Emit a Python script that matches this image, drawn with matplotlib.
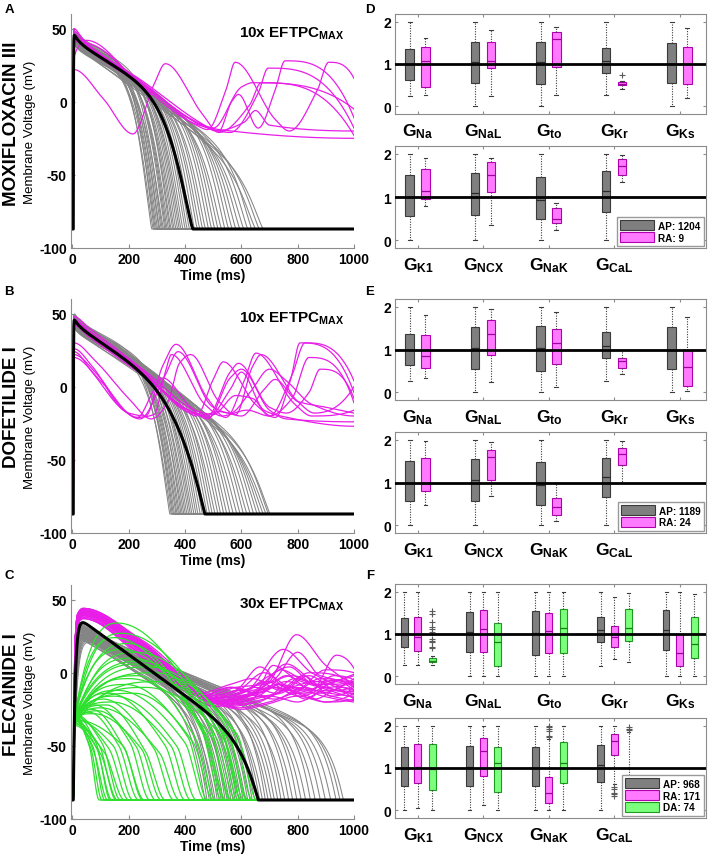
import numpy as np
import matplotlib
matplotlib.use('Agg')
import matplotlib.pyplot as plt
from matplotlib.patches import Patch

plt.rcParams['font.family'] = ['Liberation Sans', 'DejaVu Sans']
plt.rcParams['mathtext.fontset'] = 'custom'
plt.rcParams['mathtext.rm'] = 'Liberation Sans'
plt.rcParams['mathtext.bf'] = 'Liberation Sans:bold'
plt.rcParams['mathtext.default'] = 'bf'

# ---------------------------------------------------------------- data
VREST = -87.0
time_ms = np.linspace(0, 1000, 2001)

# black (baseline) traces: peak, plateau slope, end of repolarisation
A_black = dict(vp=42, s=0.12, T=428, tau=0.6, spike=5)
B_black = dict(vp=43, s=0.13, T=470, tau=0.6, spike=4)
C_black = dict(vp=40, s=0.14, T=660, tau=7, spike=0)

# gray AP populations (end time, plateau start, plateau slope)
A_gray_T = [282, 287, 291, 295, 299, 303, 308, 311, 316, 320, 324, 329, 333, 337, 342, 347, 351, 357, 362, 368,
            374, 380, 386, 393, 401, 408, 416, 425, 434, 444, 453, 463, 473, 484, 495, 506, 518, 530, 542, 555,
            568, 581, 595, 609, 623, 637, 651, 664, 678]
A_gray_Vp = [44, 41, 45, 38, 43, 40, 46, 36, 42, 44, 39, 45, 41, 37, 43, 46, 40, 44, 38, 42, 45, 41, 36, 43, 40,
             44, 39, 46, 42, 38, 44, 41, 43, 37, 45, 40, 42, 44, 39, 43, 41, 45, 38, 42, 44, 40, 43, 41, 39]
A_gray_s = [0.10, 0.11, 0.09, 0.10, 0.11, 0.10, 0.12, 0.09, 0.11, 0.10, 0.12, 0.11, 0.10, 0.09, 0.12, 0.11, 0.10,
            0.12, 0.10, 0.11, 0.12, 0.11, 0.10, 0.12, 0.11, 0.12, 0.11, 0.13, 0.12, 0.11, 0.13, 0.12, 0.13, 0.11,
            0.13, 0.12, 0.13, 0.14, 0.12, 0.13, 0.13, 0.14, 0.13, 0.14, 0.14, 0.13, 0.15, 0.14, 0.14]

B_gray_T = [346, 351, 355, 359, 363, 368, 372, 377, 381, 386, 391, 396, 401, 407, 413, 419, 425, 432, 439, 446,
            454, 462, 470, 479, 488, 497, 507, 517, 527, 538, 549, 560, 572, 584, 596, 608, 620, 632, 644, 656,
            667, 678, 688, 696, 702]
B_gray_Vp = [45, 42, 46, 39, 44, 41, 47, 37, 43, 45, 40, 46, 42, 38, 44, 47, 41, 45, 39, 43, 46, 42, 37, 44, 41,
             45, 40, 47, 43, 39, 45, 42, 44, 38, 46, 41, 43, 45, 40, 44, 42, 46, 39, 43, 41]
B_gray_s = [0.10, 0.11, 0.10, 0.09, 0.11, 0.10, 0.12, 0.09, 0.11, 0.10, 0.11, 0.12, 0.10, 0.10, 0.11, 0.12, 0.11,
            0.12, 0.10, 0.11, 0.12, 0.11, 0.10, 0.12, 0.11, 0.12, 0.12, 0.13, 0.12, 0.11, 0.13, 0.12, 0.13, 0.12,
            0.13, 0.12, 0.13, 0.13, 0.12, 0.13, 0.13, 0.14, 0.13, 0.13, 0.13]

C_gray_T = [470, 478, 486, 493, 500, 507, 514, 521, 528, 535, 542, 549, 556, 563, 570, 577, 584, 591, 598, 606,
            614, 622, 630, 638, 647, 656, 665, 675, 685, 695, 706, 717, 729, 741, 754, 768, 782, 797, 812, 828,
            845, 862, 880, 898, 917, 936, 950, 962]
C_gray_Vp = [30, 34, 27, 36, 32, 29, 35, 31, 26, 33, 37, 30, 28, 34, 32, 36, 29, 31, 35, 27, 33, 30, 36, 32, 28,
             34, 31, 29, 35, 33, 27, 32, 30, 34, 28, 31, 29, 33, 27, 30, 32, 28, 31, 29, 27, 30, 28, 26]
C_gray_s = [0.13, 0.13, 0.12, 0.13, 0.12, 0.13, 0.12, 0.12, 0.11, 0.12, 0.12, 0.12, 0.11, 0.12, 0.11, 0.12, 0.11,
            0.11, 0.11, 0.10, 0.11, 0.10, 0.11, 0.10, 0.10, 0.10, 0.10, 0.10, 0.095, 0.10, 0.09, 0.095, 0.09, 0.09,
            0.09, 0.085, 0.085, 0.085, 0.08, 0.085, 0.08, 0.08, 0.08, 0.078, 0.075, 0.076, 0.075, 0.074]
C_gray_tau = [4, 6, 3, 5, 8, 4, 3, 10, 5, 4, 3, 6, 12, 4, 5, 3, 7, 4, 3, 9, 5, 4, 3, 6, 11, 4, 5, 7, 3, 4, 8, 5,
              4, 6, 10, 4, 5, 3, 7, 4, 6, 5, 4, 8, 5, 4, 6, 5]

# magenta (repolarisation abnormality) traces, (time, voltage) landmarks
A_mag = [
    [(5, 22), (110, 2), (215, -22), (290, 12), (330, 26), (460, -8), (520, -21), (630, -2), (670, 13), (1000, -23)],
    [(5, 48), (60, 38), (250, 13), (440, -16), (480, -19), (545, 8), (578, 27), (720, -12), (770, -20), (870, 8),
     (910, 27), (1000, 16)],
    [(5, 46), (60, 37), (250, 12), (470, -17), (520, -20), (565, 0), (590, 5), (660, -18), (720, 8), (755, 28),
     (1000, -11)],
    [(5, 43), (60, 35), (250, 11), (500, -19), (560, -21), (660, 6), (695, 23), (1000, -18)],
    [(5, 40), (50, 42), (250, 10), (450, -16), (500, -18), (600, 10), (640, 13), (1000, -5)],
    [(5, 30), (45, 40), (250, 11), (480, -17), (520, -19), (1000, -25)],
    [(5, 50), (40, 42), (250, 14), (460, -15), (510, -20), (610, -14), (650, -6), (700, -16), (1000, -20)],
]
B_mag = [
    [(5, 22), (90, 8), (200, -18), (260, -20), (320, 14), (368, 29), (480, -8), (545, -21), (610, 4), (652, 23),
     (790, -12), (850, -20), (1000, -16)],
    [(5, 20), (100, 4), (230, -21), (290, -19), (330, 10), (352, 22), (470, -12), (530, -20), (620, -16),
     (700, -20), (780, 8), (826, 30), (1000, 4)],
    [(5, 46), (60, 38), (250, 11), (400, -16), (440, -20), (500, 5), (536, 17), (650, -12), (720, -21), (775, 5),
     (808, 30), (1000, -4)],
    [(5, 43), (60, 35), (250, 9), (430, -18), (480, -21), (560, -2), (600, 10), (680, -16), (740, -20),
     (1000, -27)],
    [(5, 26), (70, 14), (180, -16), (240, -22), (330, 8), (375, 24), (500, -14), (560, -18), (630, -4), (700, 12),
     (760, 4), (850, -12), (1000, -20)],
    [(5, 48), (60, 40), (250, 12), (450, -17), (500, -19), (580, -6), (640, -8), (700, -20), (780, -8), (840, 20),
     (1000, -11)],
    [(5, 30), (80, 18), (200, -8), (280, -22), (340, -10), (380, 16), (420, 22), (520, -10), (580, -19), (640, 14),
     (670, 22), (800, -10), (860, -18), (1000, 0)],
    [(5, 42), (60, 34), (250, 8), (470, -19), (520, -17), (600, -20), (680, -2), (720, 5), (800, -10), (900, -14),
     (1000, -18)],
    [(5, 24), (70, 10), (170, -14), (230, -21), (290, -2), (320, 6), (420, -14), (480, -22), (560, 6), (600, 12),
     (700, -16), (760, -22), (1000, -24)],
    [(5, 45), (60, 37), (250, 10), (420, -18), (480, -20), (560, 10), (590, 16), (700, -14), (760, -18), (840, -4),
     (880, 12), (1000, -8)],
]
C_mag_Vp = [42, 40, 43, 38, 41, 44, 39, 42, 40, 37, 43, 41, 39, 42, 44, 40, 38, 42, 41, 43, 39, 40, 42, 37, 44,
            41, 40, 43]
C_mag_V250 = [18, 15, 20, 12, 17, 21, 14, 19, 16, 10, 20, 18, 13, 17, 22, 15, 11, 18, 16, 19, 14, 17, 20, 12, 21,
              15, 18, 16]
C_mag_tmin = [520, 500, 540, 480, 560, 530, 510, 470, 590, 450, 550, 500, 520, 480, 570, 530, 460, 510, 490, 560,
              500, 540, 480, 520, 510, 600, 470, 530]
C_mag_Vmin = [-20, -18, -22, -16, -21, -19, -23, -15, -24, -14, -20, -17, -21, -18, -22, -19, -16, -20, -17, -23,
              -18, -21, -16, -19, -18, -25, -15, -20]
C_mag_late = [
    [(620, -16), (700, -6), (796, 26), (900, 5), (1000, -8)],
    [(620, -12), (749, 16), (850, 0), (1000, -12)],
    [(640, -18), (713, 5), (800, -5), (900, -10), (1000, -6)],
    [(580, -12), (666, 4), (760, -10), (860, -6), (1000, -18)],
    [(660, -16), (760, -2), (850, -12), (938, 12), (1000, 3)],
    [(650, -10), (720, -14), (820, -2), (920, -16), (1000, -10)],
    [(610, -20), (700, -16), (800, -20), (900, -12), (1000, -15)],
    [(560, -10), (640, -12), (740, 2), (840, -6), (1000, -2)],
    [(700, -20), (800, -14), (900, -20), (1000, -18)],
    [(560, -8), (640, -4), (740, -12), (840, 0), (1000, -8)],
    [(650, -14), (760, 6), (870, -8), (1000, -14)],
    [(600, -14), (690, -6), (780, -14), (880, -4), (1000, -10)],
    [(620, -16), (730, -8), (830, -18), (930, -6), (1000, -12)],
    [(590, -12), (680, 0), (770, -10), (870, -14), (1000, -4)],
    [(680, -18), (790, -10), (890, -16), (1000, -20)],
    [(630, -14), (720, -4), (800, 14), (880, -2), (1000, -6)],
    [(570, -10), (660, -14), (760, -6), (860, -12), (1000, -16)],
    [(610, -16), (710, -10), (810, -16), (910, -8), (1000, -1)],
    [(590, -12), (690, -16), (790, -4), (890, -10), (1000, -13)],
    [(660, -20), (760, -12), (860, -18), (960, -10), (1000, -12)],
    [(600, -14), (700, -2), (770, 4), (860, -8), (1000, -7)],
    [(640, -17), (740, -14), (840, -2), (940, -12), (1000, -9)],
    [(580, -10), (680, -8), (780, -2), (880, -10), (1000, -17)],
    [(620, -15), (720, -18), (820, -10), (920, -16), (1000, -19)],
    [(610, -12), (700, -6), (790, -12), (900, 2), (1000, 0)],
    [(700, -21), (800, -16), (900, -20), (1000, -14)],
    [(560, -10), (650, -14), (740, -8), (830, -12), (930, -5), (1000, -9)],
    [(630, -16), (720, -10), (830, -14), (930, -2), (1000, -5)],
]

# green (depolarisation abnormality) traces: initial level, hump time/peak (0 = none), knee V, end time
C_grn_V0 = [-31, -33, -30, -34, -29, -32, -35, -31, -33, -30, -36, -32, -28, -31, -34, -30, -33, -29,
            -32, -34, -30, -31, -35, -33,
            -30, -32, -34, -29, -31, -33, -28, -35, -30, -32, -31, -33, -29, -34, -30, -32, -36, -28]
C_grn_tp = [160, 175, 200, 225, 250, 270, 230, 190, 160, 290, 310, 210, 180, 240, 200, 150, 260, 220,
            130, 110, 140, 120, 100, 150,
            0, 0, 0, 0, 0, 0, 0, 0, 0, 0, 60, 70, 80, 90, 75, 0, 0, 0]
C_grn_Vpk = [34, 27, 20, 14, 8, 4, -2, -8, -12, 0, -6, 10, 16, 6, -4, 24, -10, -14,
             -14, -18, -20, -22, -24, -16,
             0, 0, 0, 0, 0, 0, 0, 0, 0, 0, -27, -25, -22, -26, -28, 0, 0, 0]
C_grn_Vk = [-38, -40, -42, -38, -44, -40, -46, -44, -48, -42, -45, -40, -42, -38, -44, -40, -46, -48,
            -50, -52, -50, -54, -55, -50,
            -50, -52, -50, -55, -52, -50, -48, -55, -52, -50, -50, -52, -48, -50, -52, -50, -55, -48]
C_grn_T = [560, 600, 540, 620, 580, 640, 510, 480, 470, 655, 625, 590, 545, 600, 565, 530, 610, 500,
           400, 360, 420, 330, 380, 440,
           95, 105, 115, 125, 140, 155, 170, 185, 200, 215, 235, 255, 275, 295, 315, 250, 160, 135]

# box plot statistics (lower whisker, q1, median, q3, upper whisker)
top_labels = [r'$G_{Na}$', r'$G_{NaL}$', r'$G_{to}$', r'$G_{Kr}$', r'$G_{Ks}$']
bot_labels = [r'$G_{K1}$', r'$G_{NCX}$', r'$G_{NaK}$', r'$G_{CaL}$']

D_top_AP = [(0.25, 0.63, 1.0, 1.36, 2.0), (0, 0.55, 1.04, 1.52, 2.0), (0, 0.52, 1.04, 1.52, 2.0),
            (0.26, 0.78, 1.08, 1.38, 2.0), (0, 0.55, 1.0, 1.5, 2.0)]
D_top_RA = [(0.28, 0.46, 1.08, 1.40, 1.62), (0.25, 0.9, 1.06, 1.52, 1.8), (0.26, 0.92, 1.58, 1.76, 1.88),
            (0.42, 0.5, 0.53, 0.57, 0.6), (0.2, 0.52, 1.0, 1.4, 1.85)]
D_top_RA_out = [[], [], [], [0.73], []]
D_bot_AP = [(0, 0.57, 1.0, 1.5, 2.0), (0, 0.58, 1.1, 1.55, 2.0), (0, 0.48, 0.94, 1.47, 2.0),
            (0, 0.66, 1.14, 1.6, 2.0)]
D_bot_RA = [(0.8, 0.95, 1.13, 1.64, 1.9), (0.35, 1.12, 1.5, 1.8, 1.9), (0.23, 0.4, 0.5, 0.74, 0.87),
            (1.35, 1.5, 1.72, 1.88, 1.97)]

E_top_AP = [(0.26, 0.64, 1.0, 1.36, 2.0), (0, 0.55, 1.04, 1.52, 2.0), (0, 0.5, 1.04, 1.54, 2.0),
            (0.26, 0.79, 1.08, 1.4, 2.0), (0, 0.55, 1.0, 1.52, 2.0)]
E_top_RA = [(0.33, 0.57, 0.85, 1.35, 1.8), (0.25, 0.88, 1.37, 1.68, 1.95), (0.13, 0.67, 1.15, 1.49, 1.87),
            (0.42, 0.56, 0.72, 0.81, 1.0), (0.02, 0.15, 0.6, 1.0, 1.77)]
E_bot_AP = [(0, 0.57, 1.0, 1.5, 2.0), (0, 0.57, 1.07, 1.55, 2.0), (0, 0.48, 0.95, 1.47, 2.0),
            (0, 0.65, 1.12, 1.58, 2.0)]
E_bot_RA = [(0.48, 0.8, 1.0, 1.58, 1.97), (0.68, 1.07, 1.6, 1.76, 1.95), (0.1, 0.25, 0.43, 0.64, 1.0),
            (1.0, 1.4, 1.67, 1.8, 1.97)]

F_top_AP = [(0.28, 0.7, 1.0, 1.38, 2.0), (0, 0.58, 1.04, 1.53, 2.0), (0, 0.5, 1.02, 1.54, 2.0),
            (0.25, 0.8, 1.1, 1.4, 2.0), (0, 0.62, 1.1, 1.57, 2.0)]
F_top_RA = [(0.28, 0.6, 0.92, 1.4, 2.0), (0, 0.58, 1.12, 1.56, 2.0), (0, 0.56, 1.07, 1.5, 2.0),
            (0.4, 0.7, 0.92, 1.2, 1.88), (0, 0.24, 0.56, 1.0, 2.0)]
F_top_DA = [(0.27, 0.33, 0.37, 0.44, 0.47), (0, 0.25, 0.8, 1.25, 2.0), (0.02, 0.54, 1.15, 1.6, 2.0),
            (0.33, 0.84, 1.13, 1.6, 1.96), (0.02, 0.43, 0.77, 1.39, 1.94)]
F_top_DA_out = [[0.66, 0.7, 0.8, 0.84, 0.88, 1.04, 1.12, 1.16, 1.28, 1.48, 1.54], [], [], [], []]
F_bot_AP = [(0, 0.57, 1.0, 1.5, 2.0), (0, 0.57, 1.03, 1.53, 2.0), (0, 0.57, 1.0, 1.5, 2.0),
            (0.02, 0.66, 1.08, 1.55, 2.0)]
F_bot_RA = [(0.05, 0.64, 1.03, 1.56, 1.98), (0.12, 0.8, 1.4, 1.7, 1.98), (0.02, 0.17, 0.4, 0.78, 1.68),
            (0.62, 1.3, 1.64, 1.8, 1.98)]
F_bot_RA_out = [[], [], [1.72, 1.76, 1.88, 1.92, 1.97, 2.0], [0.34, 0.38, 0.42, 0.5, 0.56]]
F_bot_DA = [(0.02, 0.47, 0.97, 1.57, 2.0), (0.02, 0.43, 1.12, 1.5, 1.98), (0.02, 0.64, 1.12, 1.62, 2.0),
            (0.02, 0.12, 0.45, 0.83, 1.86)]
F_bot_DA_out = [[], [], [], [1.9, 1.93, 1.96]]

legend_D = ['AP: 1204', 'RA: 9']
legend_E = ['AP: 1189', 'RA: 24']
legend_F = ['AP: 968', 'RA: 171', 'DA: 74']

# ---------------------------------------------------------------- styles
GRAY_L, MAG_L, GRN_L = '#858585', '#E81EE8', '#2EE02E'
BOX = {'AP': ('#7F7F7F', '#3A3A3A', '#2A2A2A'),
       'RA': ('#FF7AFF', '#B000B0', '#A000A0'),
       'DA': ('#7CFF7C', '#1E9A1E', '#128012')}
SPINE = '#8C8C8C'


# ---------------------------------------------------------------- helpers
def pchip(xk, yk, x):
    xk = np.asarray(xk, float)
    yk = np.asarray(yk, float)
    h = np.diff(xk)
    d = np.diff(yk) / h
    n = len(xk)
    m = np.zeros(n)
    for k in range(1, n - 1):
        if d[k - 1] * d[k] > 0:
            w1 = 2 * h[k] + h[k - 1]
            w2 = h[k] + 2 * h[k - 1]
            m[k] = (w1 + w2) / (w1 / d[k - 1] + w2 / d[k])

    def endslope(h0, h1, d0, d1):
        s = ((2 * h0 + h1) * d0 - h0 * d1) / (h0 + h1)
        if np.sign(s) != np.sign(d0):
            return 0.0
        if np.sign(d0) != np.sign(d1) and abs(s) > abs(3 * d0):
            return 3 * d0
        return s
    if n > 2:
        m[0] = endslope(h[0], h[1], d[0], d[1])
        m[-1] = endslope(h[-1], h[-2], d[-1], d[-2])
    else:
        m[:] = d[0]
    i = np.clip(np.searchsorted(xk, x, side='right') - 1, 0, n - 2)
    t = (x - xk[i]) / h[i]
    h00 = 2 * t ** 3 - 3 * t ** 2 + 1
    h10 = t ** 3 - 2 * t ** 2 + t
    h01 = -2 * t ** 3 + 3 * t ** 2
    h11 = t ** 3 - t ** 2
    return h00 * yk[i] + h10 * h[i] * m[i] + h01 * yk[i + 1] + h11 * h[i] * m[i + 1]


def ap_curve(t, vp, s, T, tau=0.6, spike=0.0, t_up=3.0, k=1.5, mexp=1.0):
    u = t - t_up
    uu = np.clip(u, 0, None)
    P = vp - s * uu - (vp - VREST) * np.exp(-uu / tau) + spike * np.exp(-uu / 20) * (1 - np.exp(-uu / tau))
    x = np.clip(uu / (T - t_up), 0, 1)
    n = k * (T - t_up) / 100.0
    S = (1 - x ** n) ** mexp
    V = VREST + (P - VREST) * S
    V[u < 0] = VREST
    return V


def landmark_curve(t, pts):
    xs = [0, 3] + [p[0] for p in pts]
    ys = [VREST, VREST] + [p[1] for p in pts]
    if xs[-1] < 1000:
        xs.append(1000)
        ys.append(VREST)
    return pchip(xs, ys, t)


def style_ap_axes(ax, note):
    ax.set_xlim(-5, 1000)
    ax.set_ylim(-100, 60)
    ax.set_xticks([0, 200, 400, 600, 800, 1000])
    ax.set_xticklabels(['0', '200', '400', '600', '800', '1000'], fontweight='bold')
    ax.set_yticks([-100, -50, 0, 50])
    ax.set_yticklabels(['-100', '-50', '0', '50'], fontweight='bold')
    for sp in ['top', 'right']:
        ax.spines[sp].set_visible(False)
    for sp in ['left', 'bottom']:
        ax.spines[sp].set_color(SPINE)
        ax.spines[sp].set_linewidth(0.8)
    ax.tick_params(direction='in', length=3, width=0.8, color=SPINE, labelcolor='black', labelsize=10, pad=3)
    ax.set_xlabel('Time (ms)', fontsize=10, fontweight='bold', labelpad=1)
    ax.set_ylabel('Membrane Voltage (mV)', fontsize=9.5, labelpad=2)
    ax.text(0.965, 0.92, note, transform=ax.transAxes, ha='right', va='center', fontsize=11,
            fontweight='bold')


def draw_boxes(ax, groups, labels, legend_labels=None, outliers=None):
    ng = len(groups)
    if ng == 2:
        offs, w = [-0.125, 0.115], 0.13
    else:
        offs, w = [-0.21, 0.0, 0.22], 0.105
    keys = ['AP', 'RA', 'DA'][:ng]
    for gi, (key, data) in enumerate(zip(keys, groups)):
        face, edge, med = BOX[key]
        stats = []
        for ci, (lo, q1, md, q3, hi) in enumerate(data):
            fl = []
            if outliers is not None and outliers[gi] is not None:
                fl = outliers[gi][ci]
            stats.append(dict(whislo=lo, q1=q1, med=md, q3=q3, whishi=hi, fliers=fl))
        pos = [i + 1 + offs[gi] for i in range(len(data))]
        ax.bxp(stats, positions=pos, widths=w, patch_artist=True, showfliers=True,
               capwidths=w * 0.45,
               boxprops=dict(facecolor=face, edgecolor=edge, linewidth=0.8),
               medianprops=dict(color=med, linewidth=0.9),
               whiskerprops=dict(color='#3C3C3C', linestyle=(0, (1, 1.3)), linewidth=0.8),
               capprops=dict(color='#3C3C3C', linewidth=0.8),
               flierprops=dict(marker='+', markeredgecolor='#5A5A5A', markersize=5, markeredgewidth=0.8),
               zorder=2)
    ax.axhline(1, color='black', linewidth=2.0, zorder=5)
    ax.set_xlim(0.65, 5.4)
    ax.set_ylim(-0.18, 2.18)
    ax.set_yticks([0, 1, 2])
    ax.set_yticklabels(['0', '1', '2'], fontweight='bold')
    ax.set_xticks(range(1, len(labels) + 1))
    ax.set_xticklabels(labels, fontsize=12.5)
    for sp in ax.spines.values():
        sp.set_color(SPINE)
        sp.set_linewidth(0.8)
    ax.tick_params(direction='in', length=2.5, width=0.8, color=SPINE, labelcolor='black', labelsize=10,
                   top=True, right=True, pad=3)
    ax.tick_params(axis='x', labelsize=12.5, pad=5)
    if legend_labels is not None:
        handles = [Patch(facecolor=BOX[k][0], edgecolor=BOX[k][1], linewidth=0.8) for k in keys]
        ax.legend(handles, legend_labels, loc='lower right', prop={'weight': 'bold', 'size': 7.2},
                  handlelength=3.4, handleheight=1.15, borderpad=0.3, labelspacing=0.15, handletextpad=0.4,
                  borderaxespad=0.25, fancybox=False, framealpha=1, edgecolor='#999999')


# ---------------------------------------------------------------- figure
W, H = 708, 862
fig = plt.figure(figsize=(W / 100, H / 100), dpi=100)


def axes_px(x0, y0, x1, y1):
    return fig.add_axes([x0 / W, 1 - y1 / H, (x1 - x0) / W, (y1 - y0) / H])


axA = axes_px(71, 15, 354, 249)
axB = axes_px(71, 300, 354, 534)
axC = axes_px(71, 586, 354, 820)

# panel A
for T, vp, s in zip(A_gray_T, A_gray_Vp, A_gray_s):
    axA.plot(time_ms, ap_curve(time_ms, vp, s, T, spike=4, k=2.1, mexp=1.3), color=GRAY_L, lw=0.75)
for pts in A_mag:
    axA.plot(time_ms, landmark_curve(time_ms, pts), color=MAG_L, lw=0.9)
axA.plot(time_ms, ap_curve(time_ms, A_black['vp'], A_black['s'], A_black['T'], tau=A_black['tau'],
                           spike=A_black['spike'], k=1.6, mexp=1.3), color='black', lw=2.2)
style_ap_axes(axA, r'10x EFTPC$_{MAX}$')

# panel B
for T, vp, s in zip(B_gray_T, B_gray_Vp, B_gray_s):
    axB.plot(time_ms, ap_curve(time_ms, vp, s, T, spike=4, k=1.9, mexp=1.2), color=GRAY_L, lw=0.75)
for pts in B_mag:
    axB.plot(time_ms, landmark_curve(time_ms, pts), color=MAG_L, lw=0.9)
axB.plot(time_ms, ap_curve(time_ms, B_black['vp'], B_black['s'], B_black['T'], tau=B_black['tau'],
                           spike=B_black['spike'], k=1.2, mexp=1.0), color='black', lw=2.2)
style_ap_axes(axB, r'10x EFTPC$_{MAX}$')

# panel C
for T, vp, s, tau in zip(C_gray_T, C_gray_Vp, C_gray_s, C_gray_tau):
    axC.plot(time_ms, ap_curve(time_ms, vp, s, T, tau=tau, k=2.2, mexp=1.0), color=GRAY_L, lw=0.75)
for vp, v250, tmin, vmin, late in zip(C_mag_Vp, C_mag_V250, C_mag_tmin, C_mag_Vmin, C_mag_late):
    pts = [(9, vp - 25), (18, vp - 4), (38, vp), (250, v250), (tmin, vmin)] + late
    axC.plot(time_ms, landmark_curve(time_ms, pts), color=MAG_L, lw=0.9)
for v0, tp, vpk, vk, T in zip(C_grn_V0, C_grn_tp, C_grn_Vpk, C_grn_Vk, C_grn_T):
    start = tp if tp > 0 else 7
    tk = T - min(70, 0.4 * (T - start))
    pts = [(7, v0)]
    if tp > 0:
        pts.append((tp, vpk))
    pts += [(tk, vk), (T, VREST)]
    axC.plot(time_ms, landmark_curve(time_ms, pts), color=GRN_L, lw=0.9)
axC.plot(time_ms, ap_curve(time_ms, C_black['vp'], C_black['s'], C_black['T'], tau=C_black['tau'], k=2.0,
                           mexp=1.0), color='black', lw=2.2)
style_ap_axes(axC, r'30x EFTPC$_{MAX}$')

# box plot panels
axD1 = axes_px(395, 15, 706, 115)
axD2 = axes_px(395, 147, 706, 249)
axE1 = axes_px(395, 300, 706, 401)
axE2 = axes_px(395, 433, 706, 534)
axF1 = axes_px(395, 585, 706, 685)
axF2 = axes_px(395, 719, 706, 819)

draw_boxes(axD1, [D_top_AP, D_top_RA], top_labels, outliers=[None, D_top_RA_out])
draw_boxes(axD2, [D_bot_AP, D_bot_RA], bot_labels, legend_labels=legend_D)
draw_boxes(axE1, [E_top_AP, E_top_RA], top_labels)
draw_boxes(axE2, [E_bot_AP, E_bot_RA], bot_labels, legend_labels=legend_E)
draw_boxes(axF1, [F_top_AP, F_top_RA, F_top_DA], top_labels, outliers=[None, None, F_top_DA_out])
draw_boxes(axF2, [F_bot_AP, F_bot_RA, F_bot_DA], bot_labels, legend_labels=legend_F,
           outliers=[None, F_bot_RA_out, F_bot_DA_out])

# panel letters and row titles
for letter, (px, py) in zip('ABCDEF', [(9, 10), (9, 292), (9, 576), (370, 10), (370, 292), (370, 576)]):
    fig.text(px / W, 1 - py / H, letter, fontsize=9.5, fontweight='bold', ha='center', va='center')
for title, py in zip(['MOXIFLOXACIN III', 'DOFETILIDE I', 'FLECAINIDE I'], [124, 407, 695]):
    fig.text(12 / W, 1 - py / H, title, rotation=90, fontsize=13.5, fontweight='bold', ha='center',
             va='center')

fig.savefig('out.png', dpi=100)
